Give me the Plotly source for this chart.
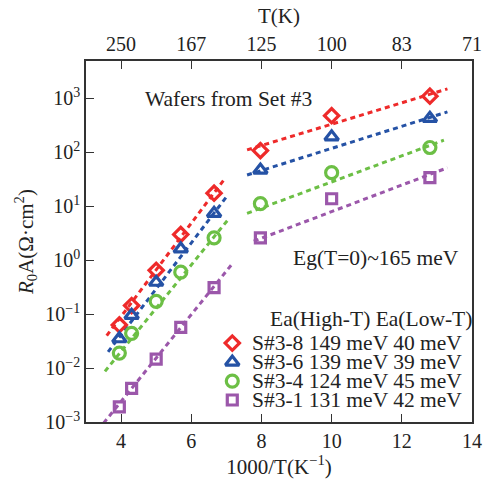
import plotly.graph_objects as go

# ---------------- data ----------------
inv_T = [3.95, 4.3, 5.0, 5.7, 6.65, 7.97, 10.0, 12.8]          # 1000/T (K^-1)

series_names = ["S#3-8", "S#3-6", "S#3-4", "S#3-1"]
ea_high = ["149 meV", "139 meV", "124 meV", "131 meV"]
ea_low = ["40 meV", "39 meV", "45 meV", "42 meV"]

r0a_s38 = [0.063, 0.144, 0.65, 3.0, 17.5, 108, 478, 1100]
r0a_s36 = [0.035, 0.095, 0.39, 1.62, 7.4, 47, 194, 428]
r0a_s34 = [0.019, 0.044, 0.173, 0.60, 2.6, 11.2, 42, 123]
r0a_s31 = [0.0019, 0.0042, 0.0146, 0.057, 0.31, 2.6, 13.8, 34]

# fitted lines (end points)
hiT_x = [[3.59, 6.94], [3.63, 7.03], [3.54, 7.08], [3.50, 7.17]]
hiT_y = [[0.040, 31.6], [0.020, 15.8], [0.0087, 6.0], [0.00095, 0.86]]
loT_x = [[7.59, 13.3], [7.59, 13.3], [7.59, 13.2], [7.78, 13.3]]
loT_y = [[111, 1500], [38, 562], [7.4, 168], [2.26, 51.8]]

bottom_ticks = [4, 6, 8, 10, 12, 14]
top_tick_text = ["250", "167", "125", "100", "83", "71"]
y_tick_exp = [-3, -2, -1, 0, 1, 2, 3]

# ---------------- style ----------------
FONT = "Liberation Serif"
FS = 20
FA = 21.5
TXT = "#222222"
AX = "#333333"
colors = ["#ee2a2a", "#2552a5", "#6cbf45", "#9b57aa"]
symbols = ["diamond-open", "triangle-up-open", "circle-open", "square-open"]
sizes = [11, 12, 12, 10]

all_y = [r0a_s38, r0a_s36, r0a_s34, r0a_s31]

fig = go.Figure()

for i in range(4):
    for xs, ys in ((hiT_x[i], hiT_y[i]), (loT_x[i], loT_y[i])):
        fig.add_trace(go.Scatter(
            x=xs, y=ys, mode="lines", showlegend=False, hoverinfo="skip",
            line=dict(color=colors[i], width=3, dash="5px,4px")))

for i in range(4):
    fig.add_trace(go.Scatter(
        x=inv_T, y=all_y[i], mode="markers", showlegend=False, name=series_names[i],
        marker=dict(symbol=symbols[i], size=sizes[i], color=colors[i],
                    line=dict(color=colors[i], width=3.2))))

# legend (custom table) on an overlay axis in [0,1] units of the plot area
LEG_MX = 0.379
LEG_TX = 0.424
LEG_Y0 = 0.2185
LEG_DY = 0.0525
for i in range(4):
    fig.add_trace(go.Scatter(
        x=[LEG_MX], y=[LEG_Y0 - i * LEG_DY], xaxis="x3", yaxis="y3",
        mode="markers", showlegend=False, hoverinfo="skip",
        marker=dict(symbol=symbols[i], size=sizes[i], color=colors[i],
                    line=dict(color=colors[i], width=3.2))))

annotations = [
    dict(text="Ea(High-T) Ea(Low-T)", x=0.471, y=0.284, xref="paper", yref="paper",
         xanchor="left", yanchor="middle", showarrow=False,
         font=dict(family=FONT, size=FA, color=TXT)),
    dict(text="Wafers from Set #3", x=0.147, y=0.894, xref="paper", yref="paper",
         xanchor="left", yanchor="middle", showarrow=False,
         font=dict(family=FONT, size=FA, color=TXT)),
    dict(text="Eg(T=0)~165 meV", x=0.532, y=0.455, xref="paper", yref="paper",
         xanchor="left", yanchor="middle", showarrow=False,
         font=dict(family=FONT, size=FA, color=TXT)),
]
for i in range(4):
    annotations.append(dict(
        text=f"{series_names[i]} {ea_high[i]} {ea_low[i]}",
        x=LEG_TX, y=LEG_Y0 - i * LEG_DY, xref="paper", yref="paper",
        xanchor="left", yanchor="middle", showarrow=False,
        font=dict(family=FONT, size=FA, color=TXT)))

y_tickvals = [10 ** e for e in y_tick_exp]
y_ticktext = [f"10<sup>{str(e).replace('-', '−')}</sup>" for e in y_tick_exp]

fig.update_layout(
    width=494, height=484,
    margin=dict(l=86, r=20, t=61, b=54),
    paper_bgcolor="white", plot_bgcolor="white",
    font=dict(family=FONT, size=FS, color=TXT),
    showlegend=False,
    annotations=annotations,
    xaxis=dict(
        range=[3, 14], tickvals=bottom_ticks, ticktext=[str(v) for v in bottom_ticks],
        ticks="inside", ticklen=8, tickwidth=1.3, tickcolor=AX,
        showline=True, linecolor=AX, linewidth=1.5, mirror=False,
        showgrid=False, zeroline=False,
        tickfont=dict(family=FONT, size=FS, color=TXT),
        title=dict(text="1000/T(K<sup>−1</sup>)", standoff=6,
                   font=dict(family=FONT, size=21, color=TXT)),
    ),
    xaxis2=dict(
        overlaying="x", side="top", anchor="y",
        range=[3, 14], tickvals=bottom_ticks, ticktext=top_tick_text,
        ticks="inside", ticklen=8, tickwidth=1.3, tickcolor=AX,
        showline=True, linecolor=AX, linewidth=1.5,
        showgrid=False, zeroline=False,
        tickfont=dict(family=FONT, size=FS, color=TXT),
        title=dict(text="T(K)", standoff=4,
                   font=dict(family=FONT, size=21, color=TXT)),
    ),
    yaxis=dict(
        type="log", range=[-3, 3.694],
        tickvals=y_tickvals, ticktext=y_ticktext,
        ticks="inside", ticklen=8, tickwidth=1.3, tickcolor=AX,
        showline=True, linecolor=AX, linewidth=1.5, mirror=True,
        showgrid=False, zeroline=False,
        tickfont=dict(family=FONT, size=FS, color=TXT),
        title=dict(text="<i>R</i><sub>0</sub>A(Ω·cm<sup>2</sup>)", standoff=6,
                   font=dict(family=FONT, size=21, color=TXT)),
    ),
    xaxis3=dict(overlaying="x", range=[0, 1], visible=False, anchor="y3"),
    yaxis3=dict(overlaying="y", range=[0, 1], visible=False, anchor="x3"),
)

# ensure x2 has a trace so it renders
fig.add_trace(go.Scatter(x=[3, 14], y=[1, 1], xaxis="x2", mode="lines",
                         line=dict(width=0), showlegend=False, hoverinfo="skip",
                         opacity=0))

fig.write_html("out.html")
